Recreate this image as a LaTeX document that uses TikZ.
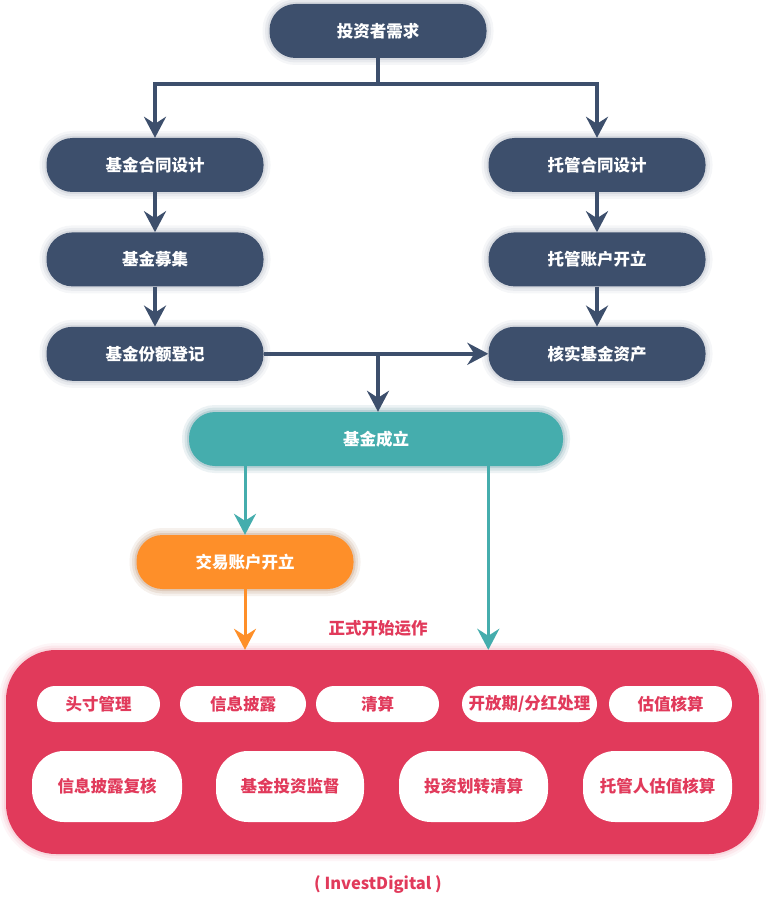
\documentclass[tikz,border=0pt]{standalone}
\usepackage{fontspec}
\setmainfont{Noto Sans CJK SC}
\usepackage{tikz}
\usetikzlibrary{arrows.meta,positioning}

\definecolor{navy}{HTML}{3D4F6C}
\definecolor{teal2}{HTML}{45ADAD}
\definecolor{orange2}{HTML}{FE8F29}
\definecolor{red2}{HTML}{E13A5B}

\begin{document}
\begin{tikzpicture}[x=1pt,y=-1pt,font=\bfseries\fontsize{16.5}{19}\selectfont]
	\tikzstyle{glow}=[preaction={draw=#1,line width=14pt,opacity=0.05},preaction={draw=#1,line width=9pt,opacity=0.07},preaction={draw=#1,line width=4pt,opacity=0.1}]
	\tikzstyle{proc}=[rectangle, rounded corners=26pt, minimum width=217pt, minimum height=54pt, inner sep=0pt, fill=navy, text=white, glow=navy]
	\tikzstyle{setup}=[proc, fill=teal2, glow=teal2, minimum width=374pt]
	\tikzstyle{trade}=[proc, fill=orange2, glow=orange2]
	\tikzstyle{opsbox}=[rectangle, rounded corners=50pt, minimum width=753pt, minimum height=204pt, fill=red2, glow=red2]
	\tikzstyle{task}=[rectangle, rounded corners=18pt, minimum width=123pt, minimum height=36pt, inner sep=0pt, fill=white, text=red2]
	\tikzstyle{bigtask}=[task, rounded corners=32pt, minimum width=149pt, minimum height=71pt]
	\tikzstyle{connect}=[-{Stealth[length=21pt,width=22pt,inset=7pt]}, line width=4.5pt, draw=navy]
	\tikzstyle{tconnect}=[connect, line width=3pt, draw=teal2]
	\tikzstyle{oconnect}=[connect, line width=3pt, draw=orange2]
	\useasboundingbox (0,0) rectangle (767,909);
	  % investor side / custodian side
	  \node[proc] (need) at (378,31) {投资者需求};
	  \node[proc] (contract) at (155,165) {基金合同设计};
	  \node[proc] (raise) [below=40pt of contract] {基金募集};
	  \node[proc] (register) [below=40pt of raise] {基金份额登记};
	  \node[proc] (custody) at (597,165) {托管合同设计};
	  \node[proc] (account) [below=40pt of custody] {托管账户开立};
	  \node[proc] (verify) [below=40pt of account] {核实基金资产};
	  \node[setup] (found) at (376,439) {基金成立};
	  \node[trade] (trade) at (245,562) {交易账户开立};
	  \node[text=red2] (start) at (378,628) {正式开始运作};
	  % operations
	  \node[opsbox] (ops) at (382.5,752) {};
	  \node[task] (cash) at (98.5,704) {头寸管理};
	  \node[task, minimum width=126pt] (disclose) at (243,704) {信息披露};
	  \node[task] (clear) at (377.5,704) {清算};
	  \node[task, minimum width=135pt] (open) at (529.5,704) {开放期/分红处理};
	  \node[task] (value) at (670.5,704) {估值核算};
	  \node[bigtask, minimum width=150pt] (recheck) at (107,786.5) {信息披露复核};
	  \node[bigtask, minimum width=148pt] (monitor) at (290,786.5) {基金投资监督};
	  \node[bigtask] (transfer) at (473.5,786.5) {投资划转清算};
	  \node[bigtask] (custval) at (657.5,786.5) {托管人估值核算};
	  \node[text=red2] (brand) at (378,885) {( InvestDigital )};
	  \coordinate (split) at (378,84);
	  \coordinate (join) at (378,353);
	  \draw[line width=4.5pt, draw=navy] (need) -- (split);
	  \draw[connect] (split) -| (contract);
	  \draw[connect] (split) -| (custody);
	  \path
	    (contract) edge [connect] (raise)
	    (raise) edge [connect] (register)
	    (custody) edge [connect] (account)
	    (account) edge [connect] (verify)
	    (register) edge [connect] (verify)
	    (join) edge [connect] (join |- found.north);
	  \draw[tconnect] (trade |- found.south) -- (trade);
	  \draw[tconnect] (verify.west |- found.south) -- (verify.west |- ops.north);
	  \draw[oconnect] (trade) -- (trade |- ops.north);
\end{tikzpicture}
\end{document}
